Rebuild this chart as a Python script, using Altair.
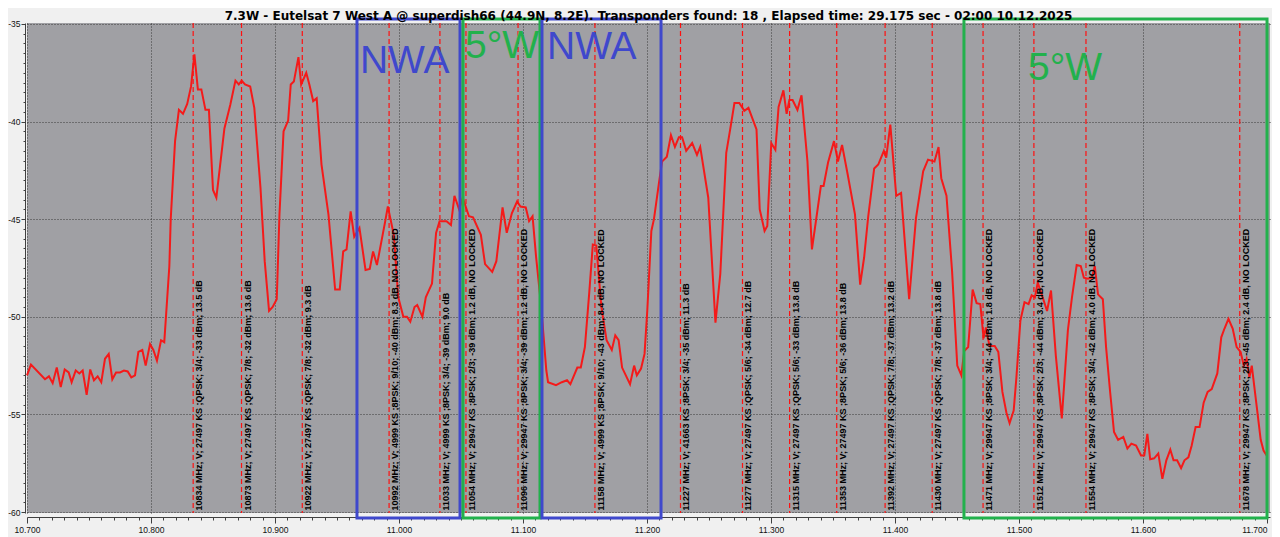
import altair as alt
import pandas as pd

TITLE = ("7.3W - Eutelsat 7 West A @ superdish66 (44.9N, 8.2E). Transponders found: 18 , "
         "Elapsed time: 29.175 sec - 02:00 10.12.2025")

# Spectrum trace (frequency in MHz, level in dBm)
FREQ_MHZ = [
    10700.0, 10703.2, 10714.5, 10717.7, 10720.7, 10724.0, 10727.2, 10730.4, 10733.6, 10736.0,
    10739.3, 10742.2, 10744.9, 10748.1, 10751.0, 10754.0, 10757.0, 10759.9, 10762.9, 10765.9,
    10768.8, 10771.8, 10775.0, 10778.2, 10781.2, 10784.1, 10787.1, 10789.8, 10793.0, 10795.7,
    10799.2, 10801.9, 10804.8, 10808.1, 10810.7, 10814.8, 10815.9, 10819.4, 10822.5, 10825.8,
    10829.2, 10832.3, 10835.0, 10837.8, 10840.6, 10843.9, 10846.7, 10850.0, 10852.7, 10859.2,
    10863.9, 10868.1, 10870.8, 10873.1, 10875.8, 10880.0, 10883.3, 10888.3, 10891.7, 10895.2,
    10898.1, 10901.4, 10903.6, 10906.9, 10910.6, 10912.7, 10915.2, 10918.9, 10921.1, 10925.2,
    10927.7, 10930.8, 10933.6, 10937.5, 10943.1, 10948.5, 10952.2, 10955.0, 10957.7, 10961.0,
    10963.9, 10968.1, 10973.0, 10976.4, 10979.1, 10982.2, 10988.9, 10991.0, 10995.8, 10999.4,
    11003.5, 11006.4, 11009.1, 11012.5, 11014.7, 11018.9, 11021.6, 11026.6, 11029.9, 11032.7,
    11038.3, 11041.9, 11044.7, 11048.5, 11051.4, 11056.4, 11059.7, 11066.0, 11069.4, 11075.2,
    11078.5, 11083.5, 11086.9, 11091.0, 11095.2, 11098.0, 11102.2, 11104.9, 11107.7, 11110.5,
    11114.7, 11118.8, 11120.2, 11126.6, 11131.3, 11135.5, 11138.2, 11143.8, 11146.6, 11149.9,
    11153.5, 11156.3, 11159.1, 11163.2, 11167.4, 11171.6, 11174.4, 11177.1, 11179.9, 11186.3,
    11189.6, 11191.8, 11195.2, 11198.0, 11200.2, 11203.5, 11205.6, 11209.5, 11212.1, 11216.0,
    11219.3, 11222.5, 11225.7, 11228.3, 11231.6, 11236.4, 11240.3, 11242.9, 11249.4, 11255.2,
    11259.1, 11263.9, 11267.2, 11270.5, 11274.4, 11278.5, 11281.8, 11288.3, 11290.9, 11294.8,
    11297.0, 11300.2, 11303.5, 11306.1, 11310.0, 11312.6, 11314.8, 11317.4, 11321.3, 11324.6,
    11329.4, 11333.0, 11340.2, 11342.4, 11346.0, 11350.8, 11354.0, 11357.3, 11361.8, 11367.7,
    11371.9, 11375.1, 11378.4, 11383.2, 11386.5, 11391.0, 11392.9, 11396.2, 11401.0, 11404.9,
    11411.4, 11416.9, 11422.7, 11426.6, 11431.8, 11435.1, 11437.3, 11441.5, 11446.0, 11450.2,
    11453.5, 11455.8, 11459.0, 11462.6, 11465.8, 11468.8, 11471.4, 11473.3, 11476.2, 11480.4,
    11483.3, 11486.6, 11489.8, 11492.4, 11495.7, 11497.9, 11501.1, 11504.4, 11507.7, 11510.2,
    11512.8, 11515.1, 11518.3, 11522.6, 11525.8, 11529.7, 11534.5, 11539.4, 11542.7, 11546.5,
    11549.8, 11552.3, 11555.6, 11558.8, 11561.1, 11563.7, 11567.6, 11570.2, 11573.4, 11576.6,
    11579.9, 11584.1, 11587.4, 11590.6, 11594.4, 11598.4, 11601.0, 11603.5, 11605.8, 11609.0,
    11612.3, 11615.6, 11618.8, 11622.0, 11624.6, 11627.5, 11630.7, 11633.4, 11636.6, 11639.2,
    11642.4, 11645.6, 11648.9, 11652.1, 11655.4, 11659.9, 11663.1, 11665.7, 11668.9, 11672.3,
    11675.5, 11678.7, 11681.3, 11683.5, 11685.8, 11687.7, 11691.7, 11694.9, 11697.2, 11699.7,
]
LEVEL_DBM = [
    -53.0, -52.45, -53.2, -53.05, -53.4, -52.6, -53.6, -52.7, -52.85, -53.35,
    -52.75, -52.9, -52.75, -54.0, -52.7, -53.25, -53.05, -53.35, -52.15, -51.9,
    -53.2, -52.85, -52.85, -52.75, -52.8, -53.1, -53.0, -51.8, -51.7, -52.5,
    -51.4, -51.7, -52.25, -51.2, -51.3, -47.4, -45.0, -41.0, -39.4, -39.6,
    -39.1, -38.2, -36.55, -38.35, -38.35, -39.4, -39.4, -43.5, -43.9, -40.35,
    -39.15, -37.9, -38.1, -37.9, -38.1, -38.2, -39.3, -43.4, -47.15, -49.7,
    -49.5, -49.1, -44.75, -40.5, -39.95, -38.1, -37.95, -36.7, -38.1, -37.5,
    -38.1, -38.95, -38.8, -42.2, -44.75, -48.6, -48.6, -46.65, -46.55, -44.6,
    -45.9, -45.45, -47.6, -47.55, -46.65, -47.35, -45.1, -44.35, -45.8, -49.0,
    -50.0, -50.0, -50.25, -49.5, -49.4, -50.0, -49.0, -48.3, -45.7, -45.1,
    -45.1, -45.3, -43.8, -44.5, -43.9, -44.85, -44.9, -45.8, -47.3, -47.7,
    -47.15, -44.4, -45.7, -44.7, -44.1, -44.35, -44.4, -45.1, -44.85, -46.9,
    -49.5, -52.75, -53.35, -53.5, -53.35, -53.25, -53.45, -52.6, -52.6, -51.55,
    -48.7, -46.3, -46.35, -49.5, -51.2, -51.7, -50.95, -51.2, -52.6, -53.45,
    -52.5, -53.0, -52.65, -51.9, -49.7, -45.6, -45.0, -43.2, -42.05, -41.8,
    -40.7, -41.3, -40.8, -40.8, -41.5, -41.1, -41.7, -41.3, -43.9, -50.3,
    -47.8, -41.6, -40.35, -39.05, -39.05, -39.45, -39.3, -40.4, -44.5, -45.6,
    -45.35, -41.1, -41.45, -39.25, -38.4, -39.6, -38.9, -38.9, -39.4, -38.65,
    -42.05, -46.55, -43.3, -43.3, -42.1, -41.0, -42.05, -41.2, -42.7, -44.75,
    -48.35, -46.95, -44.85, -42.4, -42.2, -41.5, -41.85, -40.15, -43.8, -43.65,
    -49.1, -44.95, -42.55, -41.95, -42.05, -41.3, -42.9, -43.8, -47.65, -52.5,
    -53.0, -51.75, -51.55, -48.6, -49.3, -49.35, -51.1, -50.55, -51.5, -51.5,
    -51.8, -53.85, -54.9, -55.45, -54.8, -53.1, -50.2, -49.25, -49.35, -48.9,
    -49.0, -48.25, -48.85, -49.7, -48.65, -52.0, -55.2, -50.7, -49.0, -47.35,
    -47.4, -48.0, -48.05, -48.0, -47.4, -48.85, -49.1, -51.55, -53.8, -55.9,
    -56.3, -56.15, -56.75, -56.5, -56.6, -57.1, -57.1, -56.0, -57.3, -57.25,
    -57.0, -58.3, -57.35, -56.8, -57.35, -57.35, -57.75, -57.35, -57.2, -56.6,
    -55.65, -55.65, -54.4, -53.85, -53.7, -52.9, -51.05, -50.6, -50.1, -50.6,
    -51.55, -51.8, -52.5, -52.15, -53.1, -52.5, -54.6, -56.3, -56.85, -57.1,
]

# Transponders found
TP_FREQ = [10834, 10873, 10922, 10992, 11033, 11054, 11096, 11158, 11227,
           11277, 11315, 11353, 11392, 11430, 11471, 11512, 11554, 11678]
TP_LABEL = [
    "10834 MHz; V; 27497 KS ;QPSK; 3/4; -33 dBm; 13.5 dB",
    "10873 MHz; V; 27497 KS ;QPSK; 7/8; -32 dBm; 13.6 dB",
    "10922 MHz; V; 27497 KS ;QPSK; 7/8; -32 dBm; 9.3 dB",
    "10992 MHz; V; 4999 KS ;8PSK; 9/10; -40 dBm; 8.3 dB, NO LOCKED",
    "11033 MHz; V; 4999 KS ;8PSK; 3/4; -39 dBm; 9.0 dB",
    "11054 MHz; V; 29947 KS ;8PSK; 2/3; -39 dBm; 1.2 dB, NO LOCKED",
    "11096 MHz; V; 29947 KS ;8PSK; 3/4; -39 dBm; 1.2 dB, NO LOCKED",
    "11158 MHz; V; 4999 KS ;8PSK; 9/10; -43 dBm; 8.4 dB, NO LOCKED",
    "11227 MHz; V; 41663 KS ;8PSK; 3/4; -35 dBm; 11.3 dB",
    "11277 MHz; V; 27497 KS ;QPSK; 5/6; -34 dBm; 12.7 dB",
    "11315 MHz; V; 27497 KS ;QPSK; 5/6; -33 dBm; 13.8 dB",
    "11353 MHz; V; 27497 KS ;8PSK; 5/6; -36 dBm; 13.8 dB",
    "11392 MHz; V; 27497 KS ;QPSK; 7/8; -37 dBm; 13.2 dB",
    "11430 MHz; V; 27497 KS ;QPSK; 7/8; -37 dBm; 13.8 dB",
    "11471 MHz; V; 29947 KS ;8PSK; 3/4; -44 dBm; 1.8 dB, NO LOCKED",
    "11512 MHz; V; 29947 KS ;8PSK; 2/3; -44 dBm; 3.4 dB, NO LOCKED",
    "11554 MHz; V; 29947 KS ;8PSK; 3/4; -42 dBm; 4.0 dB, NO LOCKED",
    "11678 MHz; V; 29947 KS ;8PSK; 2/3; -45 dBm; 2.4 dB, NO LOCKED",
]

# Hand-drawn beam zones
ZONE_START = [10966.1, 11051.6, 11115.3, 11455.6]
ZONE_END = [11049.2, 11113.7, 11211.3, 11700.0]
ZONE_NAME = ["NWA", "5°W", "NWA", "5°W"]
ZONE_COLOR = ["#3F48CC", "#22B14C", "#3F48CC", "#22B14C"]
ZONE_TOP = [-34.74, -34.74, -34.74, -34.74]
ZONE_BOTTOM = [-60.31, -60.31, -60.31, -60.31]
ZONE_TEXT_F = [10968.5, 11053.2, 11119.4, 11507.3]
ZONE_TEXT_DB = [-37.5, -36.73, -36.79, -37.86]

X_TICKS = list(range(10700, 11701, 10))
Y_TICKS = [v / 2 for v in range(-120, -69)]

trace = pd.DataFrame({"f": FREQ_MHZ, "db": LEVEL_DBM})
tps = pd.DataFrame({"f": TP_FREQ, "label": TP_LABEL})
zones = pd.DataFrame({"f": ZONE_START, "f2": ZONE_END, "db": ZONE_TOP, "db2": ZONE_BOTTOM,
                      "c": ZONE_COLOR})
zone_txt = pd.DataFrame({"f": ZONE_TEXT_F, "db": ZONE_TEXT_DB, "name": ZONE_NAME, "c": ZONE_COLOR})

xscale = alt.Scale(domain=[10700, 11702.4], nice=False, zero=False)
yscale = alt.Scale(domain=[-60.05, -34.95], nice=False, zero=False)

x_major = "datum.value % 100 == 0"
y_major = "datum.value % 5 == 0"

x_axis = alt.Axis(
    values=X_TICKS, title=None, grid=True,
    gridOpacity={"condition": {"test": x_major, "value": 1}, "value": 0},
    gridColor="#3a3a3a", gridDash=[1, 2], gridWidth=1,
    tickSize={"condition": {"test": x_major, "value": 6}, "value": 3},
    tickColor="#404040", domainColor="#404040", offset=4,
    labelExpr="datum.value % 100 == 0 ? format(datum.value / 1000, '.3f') : ''",
    labelAlign={"condition": {"test": "datum.value == 11700", "value": "right"}, "value": "center"},
    labelFont="Liberation Sans", labelFontSize=8.5, labelColor="#111111",
    labelPadding=2, labelOverlap=False, labelFlush=False,
)
y_axis = alt.Axis(
    values=Y_TICKS, title=None, grid=True,
    gridOpacity={"condition": {"test": y_major, "value": 1}, "value": 0},
    gridColor="#3a3a3a", gridDash=[1, 2], gridWidth=1,
    tickSize={"condition": {"test": y_major, "value": 4}, "value": 2},
    tickColor="#404040", domainColor="#404040", offset=2,
    labelExpr="datum.value % 5 == 0 ? '' + datum.value : ''",
    labelFont="Liberation Sans", labelFontSize=8.5, labelColor="#111111",
    labelPadding=1, labelOverlap=False,
)

line = alt.Chart(trace).mark_line(color="#f41a1a", strokeWidth=2).encode(
    x=alt.X("f:Q", scale=xscale, axis=x_axis),
    y=alt.Y("db:Q", scale=yscale, axis=y_axis),
)

rules = alt.Chart(tps).mark_rule(color="#ff1010", strokeDash=[5, 3], strokeWidth=1.2).encode(
    x=alt.X("f:Q", scale=xscale, axis=x_axis),
)

labels = alt.Chart(tps).mark_text(
    angle=270, align="left", baseline="top", dx=1, dy=2,
    font="Liberation Sans", fontSize=9, fontWeight="bold", color="#000000",
).encode(
    x=alt.X("f:Q", scale=xscale, axis=x_axis),
    y=alt.datum(-59.97, scale=yscale, axis=y_axis),
    text="label:N",
)

zone_label = alt.Chart(zone_txt).mark_text(
    align="left", baseline="alphabetic", font="Liberation Sans", fontSize=39,
).encode(
    x=alt.X("f:Q", scale=xscale, axis=x_axis),
    y=alt.Y("db:Q", scale=yscale, axis=y_axis),
    text="name:N",
    color=alt.Color("c:N", scale=None, legend=None),
)

boxes = alt.Chart(zones).mark_rect(filled=False, strokeWidth=3).encode(
    x=alt.X("f:Q", scale=xscale, axis=x_axis),
    x2="f2:Q",
    y=alt.Y("db:Q", scale=yscale, axis=y_axis),
    y2="db2:Q",
    color=alt.Color("c:N", scale=None, legend=None),
)

chart = alt.layer(line, rules, labels, zone_label, boxes).properties(
    width=1243, height=490,
    title=alt.TitleParams(TITLE, font="DejaVu Sans", fontSize=12, fontWeight="bold",
                          color="#000000", anchor="middle", frame="group", offset=-15,
                          baseline="alphabetic"),
    autosize=alt.AutoSizeParams(type="none"),
    padding={"left": 19, "top": 15, "right": 2, "bottom": 24},
    background="#f0f0f0",
).configure_view(fill="#a0a0a4", stroke=None).configure_axis(
    labelOverlap=False, labelFlush=False
)

chart.save("out.html", embed_options={"renderer": "svg", "actions": False})
